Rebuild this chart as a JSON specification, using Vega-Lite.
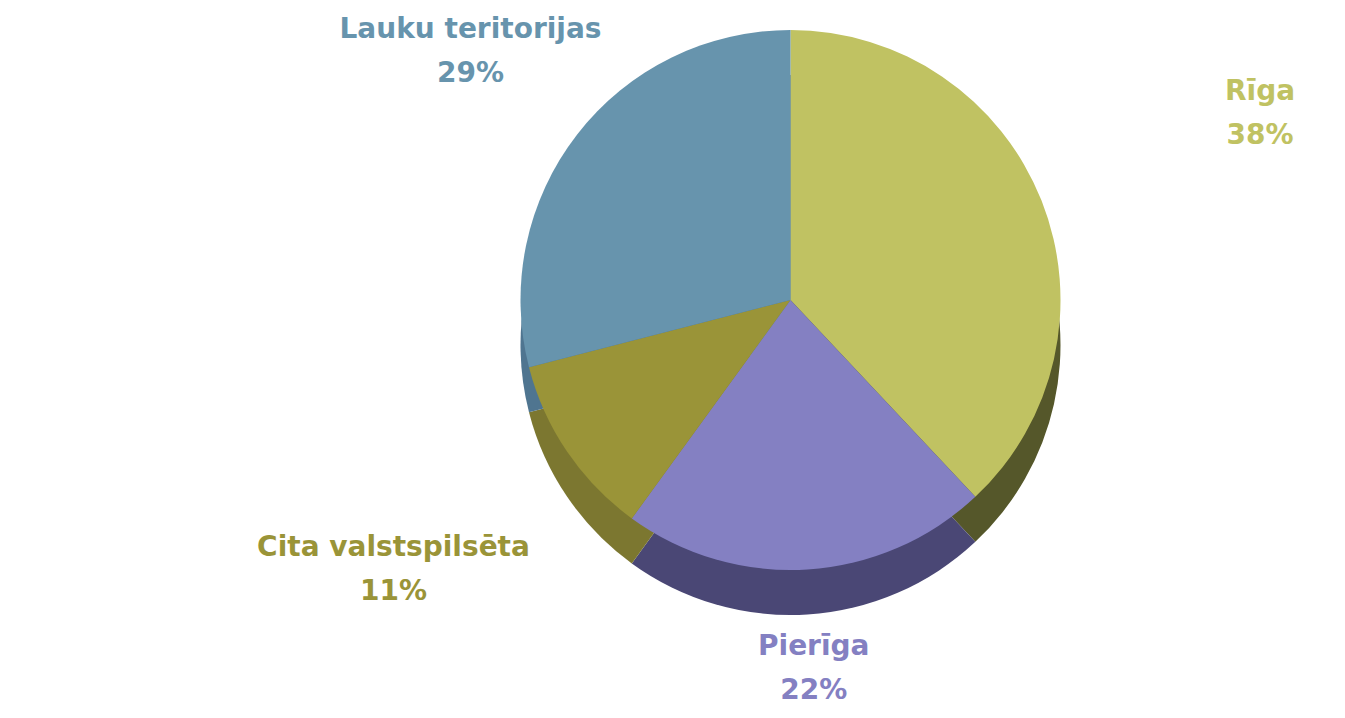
{
  "$schema": "https://vega.github.io/schema/vega-lite/v6.json",
  "width": 1109,
  "height": 600,
  "autosize": "none",
  "padding": {"left": 236, "top": 0, "right": 0, "bottom": 118},
  "background": "white",
  "view": {"stroke": null},
  "config": {"text": {"font": "DejaVu Sans", "fontSize": 28, "fontWeight": "bold", "baseline": "middle", "align": "center"}},
  "data": {"values": [
    {"category": "Rīga", "share": 0.38, "idx": 1},
    {"category": "Pierīga", "share": 0.22, "idx": 2},
    {"category": "Cita valstspilsēta", "share": 0.11, "idx": 3},
    {"category": "Lauku teritorijas", "share": 0.29, "idx": 4}
  ]},
  "encoding": {
    "theta": {"field": "share", "type": "quantitative", "stack": true},
    "order": {"field": "idx", "type": "quantitative"}
  },
  "layer": [
    {"mark": {"type": "arc", "outerRadius": 270, "yOffset": 45},
     "encoding": {"fill": {"field": "category", "type": "nominal", "legend": null,
       "scale": {"domain": ["Rīga", "Pierīga", "Cita valstspilsēta", "Lauku teritorijas"],
                 "range": ["#55572A", "#4A4775", "#7C7730", "#4F7590"]}}}},
    {"mark": {"type": "arc", "outerRadius": 270},
     "encoding": {"color": {"field": "category", "type": "nominal", "legend": null,
      "scale": {"domain": ["Rīga", "Pierīga", "Cita valstspilsēta", "Lauku teritorijas"],
                "range": ["#C0C262", "#8480C2", "#9A9438", "#6794AD"]}}}},
    {"mark": {"type": "text", "radius": 505, "dy": -22},
     "encoding": {"color": {"field": "category", "type": "nominal", "legend": null}, "text": {"condition": {"test": "datum.category === 'Rīga'", "field": "category"}, "value": ""}}},
    {"mark": {"type": "text", "radius": 505, "dy": 22},
     "encoding": {"color": {"field": "category", "type": "nominal", "legend": null}, "text": {"condition": {"test": "datum.category === 'Rīga'", "field": "share", "format": ".0%"}, "value": ""}}},
    {"mark": {"type": "text", "radius": 370, "dy": -22},
     "encoding": {"color": {"field": "category", "type": "nominal", "legend": null}, "text": {"condition": {"test": "datum.category === 'Pierīga'", "field": "category"}, "value": ""}}},
    {"mark": {"type": "text", "radius": 370, "dy": 22},
     "encoding": {"color": {"field": "category", "type": "nominal", "legend": null}, "text": {"condition": {"test": "datum.category === 'Pierīga'", "field": "share", "format": ".0%"}, "value": ""}}},
    {"mark": {"type": "text", "radius": 480, "dy": -22},
     "encoding": {"color": {"field": "category", "type": "nominal", "legend": null}, "text": {"condition": {"test": "datum.category === 'Cita valstspilsēta'", "field": "category"}, "value": ""}}},
    {"mark": {"type": "text", "radius": 480, "dy": 22},
     "encoding": {"color": {"field": "category", "type": "nominal", "legend": null}, "text": {"condition": {"test": "datum.category === 'Cita valstspilsēta'", "field": "share", "format": ".0%"}, "value": ""}}},
    {"mark": {"type": "text", "radius": 405, "dy": -22},
     "encoding": {"color": {"field": "category", "type": "nominal", "legend": null}, "text": {"condition": {"test": "datum.category === 'Lauku teritorijas'", "field": "category"}, "value": ""}}},
    {"mark": {"type": "text", "radius": 405, "dy": 22},
     "encoding": {"color": {"field": "category", "type": "nominal", "legend": null}, "text": {"condition": {"test": "datum.category === 'Lauku teritorijas'", "field": "share", "format": ".0%"}, "value": ""}}}
  ]
}
